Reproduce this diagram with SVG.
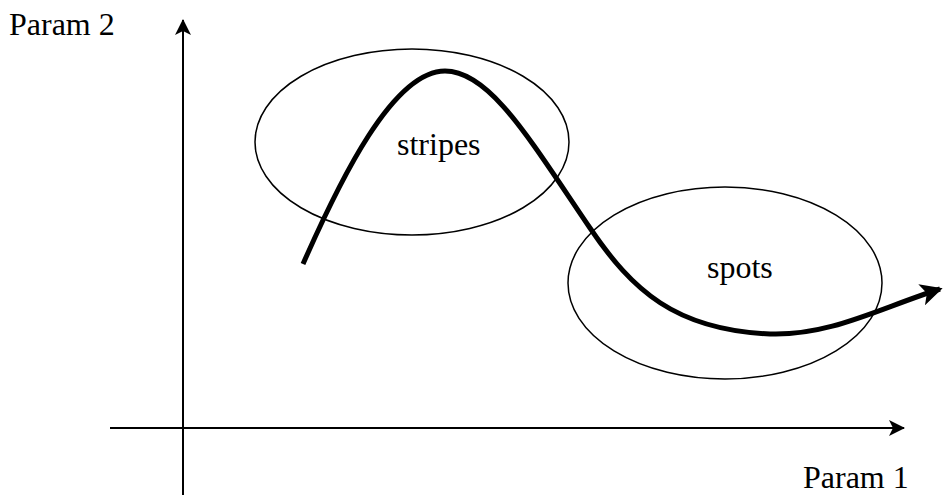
<svg xmlns="http://www.w3.org/2000/svg" width="943" height="495" viewBox="0 0 943 495">
<style>
text{font-family:"Liberation Serif","Times New Roman",serif;font-size:32px;fill:#000}
.axis{stroke:#000;stroke-width:2;fill:none}
.oval{stroke:#000;stroke-width:1.5;fill:none}
.curve{stroke:#000;stroke-width:5;fill:none;stroke-linecap:butt}
</style>
<defs>
<marker id="ah" viewBox="0 0 16 16" refX="15" refY="8" markerWidth="16" markerHeight="16" markerUnits="userSpaceOnUse" orient="auto">
<path d="M0,0 L16,8 L0,16 L4,8 Z" fill="#000"/>
</marker>
<marker id="ah2" viewBox="0 0 16 16" refX="14" refY="8" markerWidth="4.4" markerHeight="4.4" orient="auto">
<path d="M0,0 L16,8 L0,16 L4,8 Z" fill="#000"/>
</marker>
</defs>
<g id="connectors">
<line class="axis" x1="183" y1="495" x2="183" y2="20" marker-end="url(#ah)"/>
<line class="axis" x1="110" y1="428" x2="904" y2="428" marker-end="url(#ah)"/>
<path id="trajectory" class="curve" d="M303,264 C340,180 393,71 445,71 C490,71 530,140 590,228 C632,290 675,330 770,334 C830,336 880,308 940,289" marker-end="url(#ah2)"/>
</g>
<g id="stripes">
<ellipse class="oval" cx="412" cy="142" rx="157" ry="93"/>
<text x="397" y="155">stripes</text>
</g>
<g id="spots">
<ellipse class="oval" cx="725" cy="283" rx="157" ry="96"/>
<text x="707" y="278">spots</text>
</g>
<g id="param2">
<text x="9" y="35">Param 2</text>
</g>
<g id="param1">
<text x="803" y="488">Param 1</text>
</g>
</svg>
